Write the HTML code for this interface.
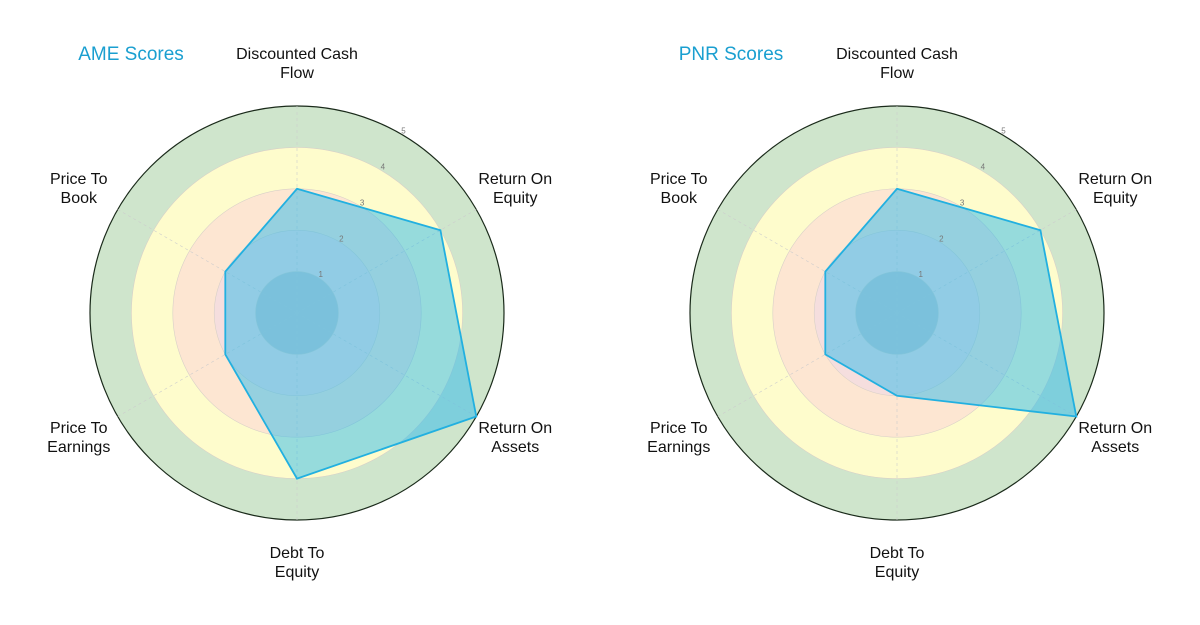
<!DOCTYPE html>
<html><head><meta charset="utf-8"><style>
html,body{margin:0;padding:0;background:#fff;width:1200px;height:625px;overflow:hidden}
text{font-family:"Liberation Sans",sans-serif}
</style></head><body>
<svg id="chart" width="1200" height="625" xmlns="http://www.w3.org/2000/svg"></svg>
<script>
const categories = ["Discounted Cash\nFlow","Return On\nEquity","Return On\nAssets","Debt To\nEquity","Price To\nEarnings","Price To\nBook"];
const ameValues = [3,4,5,4,2,2];
const pnrValues = [3,4,5,2,2,2];
const tickLabels = [1,2,3,4,5];
const charts = [{title:"AME Scores",values:ameValues,cx:297},{title:"PNR Scores",values:pnrValues,cx:897}];
const NS="http://www.w3.org/2000/svg";
const svg=document.getElementById('chart');
const CY=313, UNIT=41.4, MAXV=5;
const bandColors=["#c8c8cc","#f5dede","#fde6d2","#fefccc","#cfe5cc"];
function mk(tag,attrs,parent){const e=document.createElementNS(NS,tag);for(const k in attrs)e.setAttribute(k,attrs[k]);(parent||svg).appendChild(e);return e;}
function ang(i){return Math.PI/2 - i*2*Math.PI/categories.length;}
function pt(cx,i,v){const a=ang(i);return [cx+Math.cos(a)*v*UNIT, CY-Math.sin(a)*v*UNIT];}
charts.forEach((c,ci)=>{
  const g=mk('g',{});
  
  
  for(let b=MAXV;b>=1;b--){
    const ci2=mk('circle',{cx:c.cx,cy:CY,r:b*UNIT,fill:bandColors[b-1],stroke:b===MAXV?"#1a2a1a":"#d8d0c8","stroke-width":b===MAXV?1.2:0.6},g);
    
    
  }
  categories.forEach((cat,i)=>{
    const p=pt(c.cx,i,MAXV);
    const l=mk('line',{x1:c.cx,y1:CY,x2:p[0],y2:p[1],stroke:"#ccc","stroke-width":0.6,"stroke-dasharray":"3,3"},g);
    
    
  });
  const pts=c.values.map((v,i)=>pt(c.cx,i,v).join(',')).join(' ');
  const poly=mk('polygon',{points:pts,fill:"rgba(45,185,235,0.5)",stroke:"#22b0e0","stroke-width":1.8},g);
  
  
  tickLabels.forEach(t=>{
    const a=Math.PI/2-Math.PI/6;
    const tx=mk('text',{x:c.cx+Math.cos(a)*t*UNIT+3,y:CY-Math.sin(a)*t*UNIT,"font-size":8,fill:"#777","text-anchor":"middle"},g);
    tx.textContent=t;
    
    
  });
  const yAdj=[0,0,-3,0,-3,0];
  categories.forEach((cat,i)=>{
    const a=ang(i); const R=MAXV*UNIT+45;
    let x=c.cx+Math.cos(a)*R, y=CY-Math.sin(a)*R+yAdj[i];
    if(i===0)y=CY-207-44; if(i===3)y=CY+207+41;
    const lines=cat.split("\n");
    const tx=mk('text',{x:x,y:y-3,"font-size":16,fill:"#111","text-anchor":"middle"},g);
    lines.forEach((ln,k)=>{const s=mk('tspan',{x:x,dy:k===0?0:19},tx);s.textContent=ln;});
    
    
  });
  const tt=mk('text',{x:c.cx-166,y:60,"font-size":19,fill:"#1a9fd0","text-anchor":"middle"},g);
  tt.textContent=c.title;
  
  
});
</script>
</body></html>
